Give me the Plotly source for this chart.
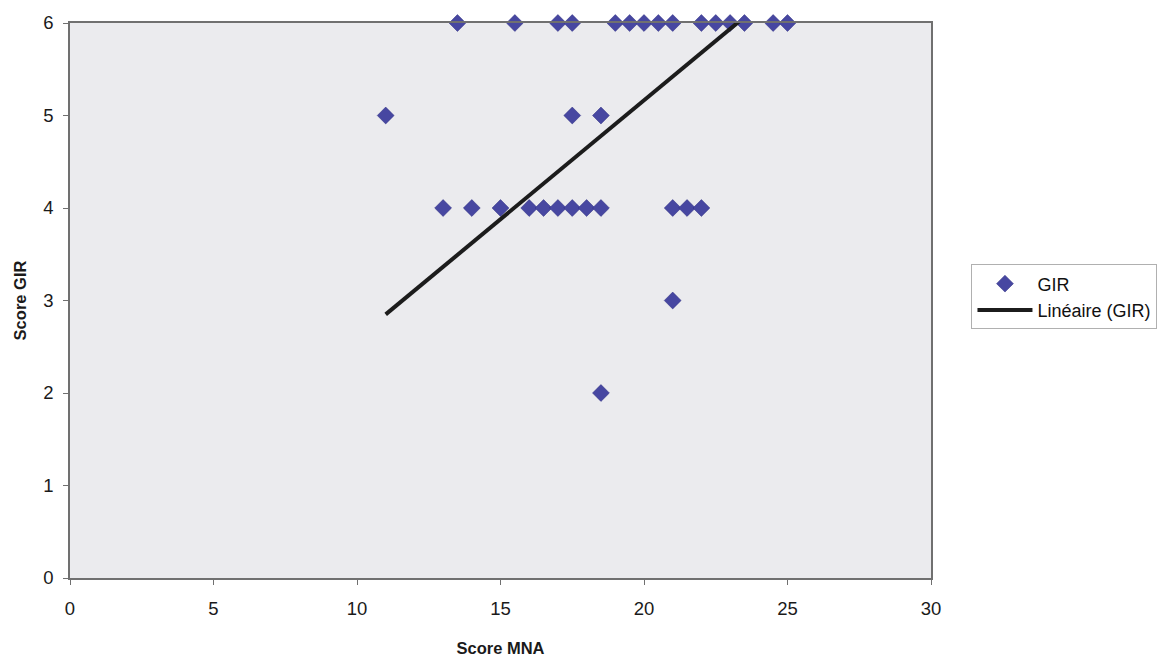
import plotly.graph_objects as go

# Data
mna_6 = [13.5, 15.5, 17, 17.5, 19, 19.5, 20, 20.5, 21, 22, 22.5, 23, 23.5, 24.5, 25]
mna_5 = [11, 17.5, 18.5]
mna_4 = [13, 14, 15, 16, 16.5, 17, 17.5, 18, 18.5, 21, 21.5, 22]
mna_3 = [21]
mna_2 = [18.5]

score_mna = mna_6 + mna_5 + mna_4 + mna_3 + mna_2
score_gir = [6] * len(mna_6) + [5] * len(mna_5) + [4] * len(mna_4) + [3] * len(mna_3) + [2] * len(mna_2)

trend_x = [11, 25]
trend_y = [2.85, 6.45]

fig = go.Figure()
fig.add_trace(go.Scatter(
    x=score_mna, y=score_gir, mode="markers", name="GIR",
    marker=dict(symbol="diamond", size=13, color="#4747a1",
                line=dict(color="#2c2c80", width=0.5)),
    cliponaxis=False,
))
fig.add_trace(go.Scatter(
    x=trend_x, y=trend_y, mode="lines", name="Linéaire (GIR)",
    line=dict(color="#1c1c1c", width=4),
))

font = "Liberation Sans, Arial, sans-serif"
fig.update_layout(
    width=1160, height=657,
    margin=dict(l=70, r=229, t=23, b=79, autoexpand=False),
    paper_bgcolor="white",
    plot_bgcolor="#ebebee",
    font=dict(family=font, size=17, color="#1a1a1a"),
    showlegend=True,
    legend=dict(
        x=1.047, y=0.565, xanchor="left", yanchor="top",
        bordercolor="#b0b0b0", borderwidth=1, bgcolor="white",
        font=dict(family=font, size=18, color="#111"),
        tracegroupgap=0, itemwidth=55,
    ),
    xaxis=dict(
        range=[0, 30], tickvals=[0, 5, 10, 15, 20, 25, 30],
        showgrid=False, zeroline=False, automargin=False,
        showline=True, linecolor="#707070", linewidth=1.5, mirror=True,
        ticks="outside", ticklen=5, tickcolor="#707070",
        tickfont=dict(size=18.5), ticklabelstandoff=8,
        title=dict(text="<b>Score MNA</b>", font=dict(size=16.5), standoff=24),
    ),
    yaxis=dict(
        range=[0, 6], tickvals=[0, 1, 2, 3, 4, 5, 6],
        showgrid=False, zeroline=False, automargin=False,
        showline=True, linecolor="#707070", linewidth=1.5, mirror=True,
        ticks="outside", ticklen=5, tickcolor="#707070",
        tickfont=dict(size=18.5), ticklabelstandoff=6,
        title=dict(text="<b>Score GIR</b>", font=dict(size=16.5), standoff=12),
    ),
)

fig.write_html("out.html")
